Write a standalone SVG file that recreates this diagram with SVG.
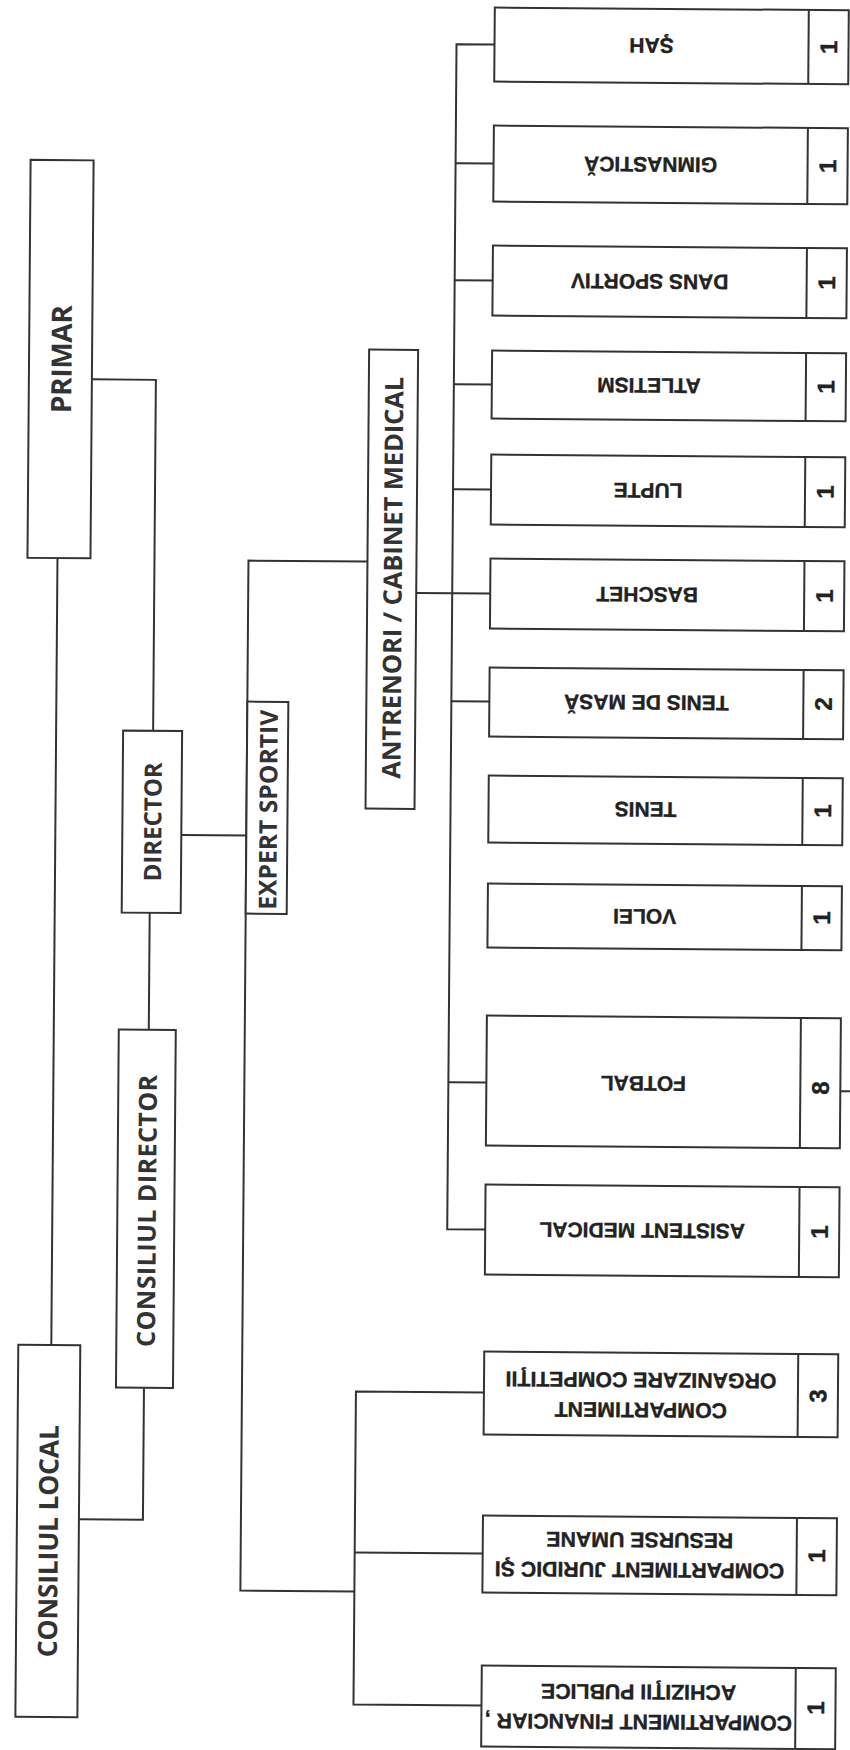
<svg xmlns="http://www.w3.org/2000/svg" width="850" height="1750" viewBox="0 0 850 1750">
<style>
.box{fill:#fff;stroke:#333;stroke-width:2}
.conn{fill:none;stroke:#333;stroke-width:2}
.big{font-family:"Open Sans","DejaVu Sans",sans-serif;font-weight:700;fill:#333;text-anchor:middle;dominant-baseline:central}
.leaf{font-family:"Liberation Sans",Arial,sans-serif;font-weight:700;fill:#222;stroke:#222;stroke-width:0.35;font-size:21px;text-anchor:middle;dominant-baseline:central}
.comp{font-size:21.3px}
.num{font-family:"Liberation Sans",Arial,sans-serif;font-weight:700;fill:#222;stroke:#222;stroke-width:0.4;font-size:24px;text-anchor:middle;dominant-baseline:central}
</style>
<rect width="850" height="1750" fill="#fff"/>
<g transform="rotate(0.45 425 875)">
<g id="connectors">
<path class="conn" d="M88 382 H152 V733"/>
<path class="conn" d="M55 561 V1348"/>
<path class="conn" d="M150 915 V1032"/>
<path class="conn" d="M148 1390 V1522 H84"/>
<path class="conn" d="M181 837 H246"/>
<path class="conn" d="M365 562 H246 V1592 H360"/>
<path class="conn" d="M488 1392 H360 V1705 H488"/>
<path class="conn" d="M360 1553 H488"/>
<path class="conn" d="M414 593 H488"/>
<path class="conn" d="M488 44 H450 V1229 H488"/>
<path class="conn" d="M450 163 H488 M450 280 H488 M450 384 H488 M450 489 H488 M450 701 H488 M450 1082 H488"/>
<path class="conn" d="M842 1088 H860"/>
</g>
<g id="primar"><rect class="box" x="25" y="163" width="63" height="398"/><text class="big" font-size="28" textLength="108" transform="translate(56.5 362) rotate(-90)">PRIMAR</text></g>
<g id="consiliul-local"><rect class="box" x="22" y="1348" width="62" height="372"/><text class="big" font-size="26.5" textLength="232" transform="translate(53 1544) rotate(-90)">CONSILIUL LOCAL</text></g>
<g id="director"><rect class="box" x="122" y="733" width="59" height="182"/><text class="big" font-size="24" textLength="119" transform="translate(151.5 824) rotate(-90)">DIRECTOR</text></g>
<g id="consiliul-director"><rect class="box" x="120" y="1032" width="57" height="358"/><text class="big" font-size="25" textLength="272" transform="translate(148.5 1213) rotate(-90)">CONSILIUL DIRECTOR</text></g>
<g id="expert-sportiv"><rect class="box" x="246" y="703" width="41" height="212"/><text class="big" font-size="24.5" textLength="200" transform="translate(267 811) rotate(-90)">EXPERT SPORTIV</text></g>
<g id="antrenori"><rect class="box" x="365" y="350" width="49" height="459"/><text class="big" font-size="25.5" textLength="402" transform="translate(389.5 578) rotate(-90)">ANTRENORI / CABINET MEDICAL</text></g>

<g id="sah"><rect class="box" x="488" y="7" width="354" height="74"/><line class="conn" x1="802" y1="7" x2="802" y2="81"/><text class="leaf" transform="translate(645 44) rotate(180)">ŞAH</text><text class="num" transform="translate(822 44) rotate(-90)">1</text></g>
<g id="gimnastica"><rect class="box" x="488" y="125" width="354" height="76"/><line class="conn" x1="802" y1="125" x2="802" y2="201"/><text class="leaf" transform="translate(645 163) rotate(180)">GIMNASTICĂ</text><text class="num" transform="translate(822 163) rotate(-90)">1</text></g>
<g id="dans-sportiv"><rect class="box" x="488" y="245" width="354" height="70"/><line class="conn" x1="802" y1="245" x2="802" y2="315"/><text class="leaf" transform="translate(645 280) rotate(180)">DANS SPORTIV</text><text class="num" transform="translate(822 280) rotate(-90)">1</text></g>
<g id="atletism"><rect class="box" x="488" y="350" width="354" height="68"/><line class="conn" x1="802" y1="350" x2="802" y2="418"/><text class="leaf" transform="translate(645 384) rotate(180)">ATLETISM</text><text class="num" transform="translate(822 384) rotate(-90)">1</text></g>
<g id="lupte"><rect class="box" x="488" y="454" width="354" height="70"/><line class="conn" x1="802" y1="454" x2="802" y2="524"/><text class="leaf" transform="translate(645 489) rotate(180)">LUPTE</text><text class="num" transform="translate(822 489) rotate(-90)">1</text></g>
<g id="baschet"><rect class="box" x="488" y="558" width="354" height="70"/><line class="conn" x1="802" y1="558" x2="802" y2="628"/><text class="leaf" transform="translate(645 593) rotate(180)">BASCHET</text><text class="num" transform="translate(822 593) rotate(-90)">1</text></g>
<g id="tenis-de-masa"><rect class="box" x="488" y="667" width="354" height="69"/><line class="conn" x1="802" y1="667" x2="802" y2="736"/><text class="leaf" transform="translate(645 701) rotate(180)">TENIS DE MASĂ</text><text class="num" transform="translate(822 701) rotate(-90)">2</text></g>
<g id="tenis"><rect class="box" x="488" y="775" width="354" height="67"/><line class="conn" x1="802" y1="775" x2="802" y2="842"/><text class="leaf" transform="translate(645 808) rotate(180)">TENIS</text><text class="num" transform="translate(822 808) rotate(-90)">1</text></g>
<g id="volei"><rect class="box" x="488" y="883" width="354" height="64"/><line class="conn" x1="802" y1="883" x2="802" y2="947"/><text class="leaf" transform="translate(645 915) rotate(180)">VOLEI</text><text class="num" transform="translate(822 915) rotate(-90)">1</text></g>
<g id="fotbal"><rect class="box" x="488" y="1015" width="354" height="130"/><line class="conn" x1="802" y1="1015" x2="802" y2="1145"/><text class="leaf" transform="translate(645 1082) rotate(180)">FOTBAL</text><text class="num" transform="translate(822 1085) rotate(-90)">8</text></g>
<g id="asistent-medical"><rect class="box" x="488" y="1184" width="354" height="90"/><line class="conn" x1="802" y1="1184" x2="802" y2="1274"/><text class="leaf" transform="translate(645 1229) rotate(180)">ASISTENT MEDICAL</text><text class="num" transform="translate(822 1229) rotate(-90)">1</text></g>
<g id="comp-organizare"><rect class="box" x="488" y="1351" width="354" height="83"/><line class="conn" x1="802" y1="1351" x2="802" y2="1434"/><g transform="translate(645 1393) rotate(180)"><text class="leaf comp" y="-15">COMPARTIMENT</text><text class="leaf comp" y="15">ORGANIZARE COMPETIŢII</text></g><text class="num" transform="translate(822 1393) rotate(-90)">3</text></g>
<g id="comp-juridic"><rect class="box" x="488" y="1515" width="354" height="77"/><line class="conn" x1="802" y1="1515" x2="802" y2="1592"/><g transform="translate(645 1553) rotate(180)"><text class="leaf comp" y="-15">COMPARTIMENT JURIDIC ŞI</text><text class="leaf comp" y="15">RESURSE UMANE</text></g><text class="num" transform="translate(822 1553) rotate(-90)">1</text></g>
<g id="comp-financiar"><rect class="box" x="488" y="1665" width="354" height="81"/><line class="conn" x1="802" y1="1665" x2="802" y2="1746"/><g transform="translate(645 1705) rotate(180)"><text class="leaf comp" y="-15">COMPARTIMENT FINANCIAR ,</text><text class="leaf comp" y="15">ACHIZIŢII PUBLICE</text></g><text class="num" transform="translate(822 1705) rotate(-90)">1</text></g>
</g>
</svg>
